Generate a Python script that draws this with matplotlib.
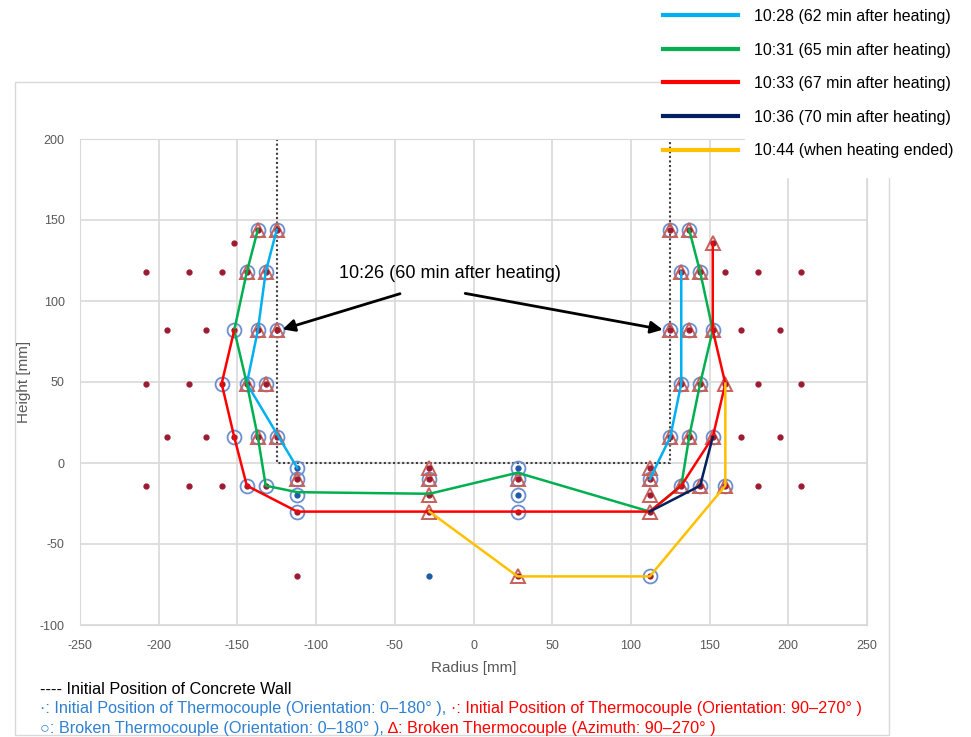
import matplotlib
matplotlib.use('Agg')
import matplotlib.pyplot as plt
import numpy as np
from matplotlib import font_manager
from matplotlib.patches import Rectangle

# fonts
available = {f.name for f in font_manager.fontManager.ttflist}
narrow = 'Liberation Sans Narrow' if 'Liberation Sans Narrow' in available else 'Liberation Sans'
plt.rcParams['font.family'] = ['Liberation Sans', 'DejaVu Sans']
plt.rcParams['axes.unicode_minus'] = False

# ---- data (mm) ----
# radial positions of thermocouple rows
radii_a = [132, 144, 160, 181, 208]   # rows at 118, 49, -14 mm
radii_b = [125, 137, 152, 170, 195]   # rows at 82, 16 mm
heights_a = [118, 49, -14]
heights_b = [82, 16]
top_radii = [125, 137]                # row at 144 mm
top_height = 144
upper_radius = 152                    # single point at 136 mm
upper_height = 136
center_cols = [-112, -28, 28, 112]
center_heights = [-3, -10, -20, -30, -70]
blue_dot_x = [-112, -112, 28, 28, -28]
blue_dot_y = [-3, -20, -3, -20, -70]

# broken thermocouples
circ_x = [-137, -125, -144, -132, -152, -137, -125, -160, -144, -132, -152, -137, -125,
          -144, -132, -112, -112, -112, -112, -28, 28, 28, 28, 28, 112, 112,
          125, 137, 132, 144, 125, 137, 152, 132, 144, 125, 137, 152, 132, 144, 160]
circ_y = [144, 144, 118, 118, 82, 82, 82, 49, 49, 49, 16, 16, 16,
          -14, -14, -3, -10, -20, -30, -10, -3, -10, -20, -30, -10, -70,
          144, 144, 118, 118, 82, 82, 82, 49, 49, 16, 16, 16, -14, -14, -14]
tri_x = [-137, -125, -144, -132, -137, -125, -144, -132, -137, -125, -112,
         -28, -28, -28, -28, 28, 28, 112, 112, 112, 112,
         125, 137, 132, 144, 152, 125, 137, 152, 132, 144, 160, 125, 137, 152, 132, 144, 160]
tri_y = [144, 144, 118, 118, 82, 82, 49, 49, 16, 16, -10,
         -3, -10, -20, -30, -10, -70, -3, -10, -20, -30,
         144, 144, 118, 118, 136, 82, 82, 82, 49, 49, 49, 16, 16, 16, -14, -14, -14]

# erosion front at each time
t1028_x = [-125, -132, -137, -144, -112, np.nan, 112, 125, 132, 132]
t1028_y = [144, 118, 82, 49, -3, np.nan, -10, 16, 49, 118]
t1031_x = [-137, -144, -152, -144, -137, -132, -112, -28, 28, 112, 132, 137, 144, 152, 144, 137]
t1031_y = [144, 118, 82, 49, 16, -14, -18, -19, -6, -30, -14, 16, 49, 82, 118, 144]
t1033_x = [-152, -160, -152, -144, -112, 112, 132, 152, 160, 152, 152]
t1033_y = [82, 49, 16, -14, -30, -30, -14, 16, 49, 82, 136]
t1036_x = [112, 144, 152]
t1036_y = [-30, -14, 16]
t1044_x = [-28, 28, 112, 160, 160]
t1044_y = [-30, -70, -70, -14, 49]

wall_x = [-125, -125, 125, 125]
wall_y = [200, 0, 0, 200]

series = [
    (t1028_x, t1028_y, '#00B0F0', '10:28 (62 min after heating)'),
    (t1031_x, t1031_y, '#00B050', '10:31 (65 min after heating)'),
    (t1033_x, t1033_y, '#FF0000', '10:33 (67 min after heating)'),
    (t1036_x, t1036_y, '#002060', '10:36 (70 min after heating)'),
    (t1044_x, t1044_y, '#FFC000', '10:44 (when heating ended)'),
]

# build initial thermocouple positions
dot_x, dot_y = [], []
for h in heights_a:
    for r in radii_a:
        dot_x += [-r, r]
        dot_y += [h, h]
for h in heights_b:
    for r in radii_b:
        dot_x += [-r, r]
        dot_y += [h, h]
for r in top_radii:
    dot_x += [-r, r]
    dot_y += [top_height, top_height]
dot_x += [-upper_radius, upper_radius]
dot_y += [upper_height, upper_height]
for c in center_cols:
    for h in center_heights:
        if not any(bx == c and by == h for bx, by in zip(blue_dot_x, blue_dot_y)):
            dot_x.append(c)
            dot_y.append(h)

# ---- figure ----
W, H = 971, 737
fig = plt.figure(figsize=(W / 100, H / 100), dpi=100)
ax = fig.add_axes([80 / W, 1 - 625 / H, 787 / W, 486 / H])

# outer chart frame
fig.add_artist(Rectangle((15 / W, 1 - 735 / H), 874 / W, 653 / H, transform=fig.transFigure,
                         fill=False, edgecolor='#D9D9D9', lw=1, zorder=0))

ax.set_xlim(-250, 250)
ax.set_ylim(-100, 200)
ax.set_xticks(np.arange(-250, 251, 50))
ax.set_yticks(np.arange(-100, 201, 50))
ax.grid(True, color='#D9D9D9', lw=1.2)
ax.set_axisbelow(True)
for s in ax.spines.values():
    s.set_color('#D9D9D9')
ax.tick_params(length=0, labelsize=9, labelcolor='#595959', pad=11)
ax.set_xlabel('Radius [mm]', fontsize=11, color='#595959', labelpad=6)
ax.set_ylabel('Height [mm]', fontsize=11, color='#595959', labelpad=6)

ax.plot(wall_x, wall_y, color='#404040', lw=1.5, ls=(0, (1, 1.2)), zorder=2)

ax.plot(circ_x, circ_y, ls='none', marker='o', ms=10, mfc='none', mec='#6C8FCF', mew=1.3, zorder=3)
ax.plot(tri_x, tri_y, ls='none', marker='^', ms=10.5, mfc='none', mec='#C8605A', mew=1.4, zorder=3)
ax.plot(dot_x, dot_y, ls='none', marker='o', ms=3.5, color='#9C1B30', zorder=4)
ax.plot(blue_dot_x, blue_dot_y, ls='none', marker='o', ms=3.5, color='#1F5AA6', zorder=4)

handles = []
for xs, ys, col, lab in series:
    ln, = ax.plot(xs, ys, color=col, lw=1.8, label=lab, zorder=5)
    handles.append(ln)

# annotation
ax.text(-15, 117, '10:26 (60 min after heating)', fontsize=13, ha='center', va='center', zorder=6)
ax.annotate('', xy=(-123, 82), xytext=(-45, 105),
            arrowprops=dict(arrowstyle='-|>', color='black', lw=2, mutation_scale=18), zorder=6)
ax.annotate('', xy=(122, 82), xytext=(-7, 105),
            arrowprops=dict(arrowstyle='-|>', color='black', lw=2, mutation_scale=18), zorder=6)

# white cover behind legend
fig.add_artist(Rectangle((662 / W, 1 - 136 / H), 309 / W, 136 / H, transform=fig.transFigure,
                         color='white', zorder=10))
fig.add_artist(Rectangle((745 / W, 1 - 177 / H), 226 / W, 177 / H, transform=fig.transFigure,
                         color='white', zorder=10))

leg = fig.legend(handles=handles, loc='upper left', bbox_to_anchor=(663 / W, 1 - 9 / H),
                 frameon=False, fontsize=11.5,
                 handlelength=4.7, handletextpad=1.0, labelspacing=1.16,
                 borderpad=0, borderaxespad=0)
for ln in leg.get_lines():
    ln.set_linewidth(3)
leg.set_zorder(11)

# notes below chart
blue_txt = '#2F80D0'
red_txt = '#FF0000'
fam = [narrow, 'DejaVu Sans']
fs = 11.7
fig.text(40 / W, 1 - 690 / H, '---- Initial Position of Concrete Wall', fontsize=fs,
         family=fam, va='center', color='black')
t2 = fig.text(40 / W, 1 - 709 / H, '\u00b7: Initial Position of Thermocouple (Orientation: 0\u2013180\u00b0 ), ',
              fontsize=fs, family=fam, va='center', color=blue_txt)
ax.annotate('\u00b7: Initial Position of Thermocouple (Orientation: 90\u2013270\u00b0 )', xy=(1, 0),
            xycoords=t2, va='bottom', fontsize=fs, family=fam, color=red_txt, annotation_clip=False)
t3 = fig.text(40 / W, 1 - 728 / H, '\u25cb: Broken Thermocouple (Orientation: 0\u2013180\u00b0 ), ',
              fontsize=fs, family=fam, va='center', color=blue_txt)
ax.annotate('\u2206: Broken Thermocouple (Azimuth: 90\u2013270\u00b0 )', xy=(1, 0),
            xycoords=t3, va='bottom', fontsize=fs, family=fam, color=red_txt, annotation_clip=False)

fig.savefig('out.png', dpi=100)
